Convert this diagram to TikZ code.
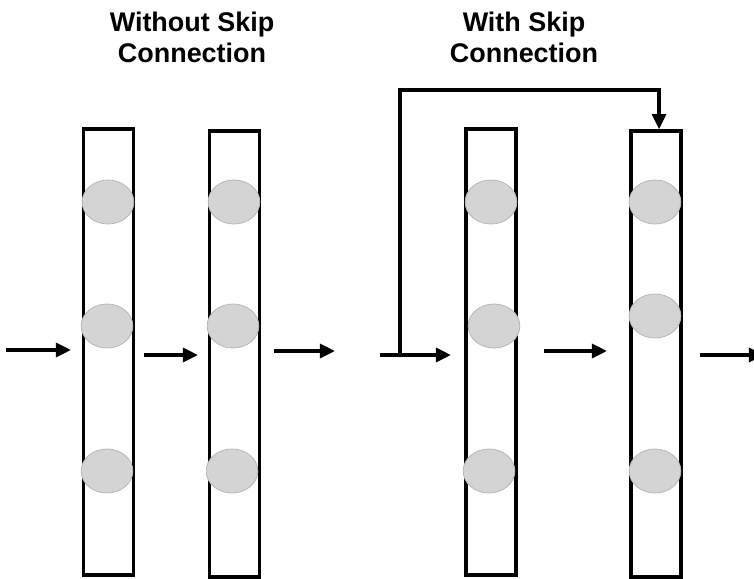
\documentclass[tikz,border=0pt]{standalone}
\usepackage{fontspec}
\setmainfont{Liberation Sans}
\usepackage{xcolor}
\definecolor{unitFill}{HTML}{D4D4D4}
\definecolor{unitEdge}{HTML}{B8B8B8}
\usetikzlibrary{shapes.geometric,arrows.meta}

\tikzset{
  layer/.style={draw, line width=3pt, inner sep=0pt, minimum width=1.5cm, minimum height=13.38cm},
  unit/.style={ellipse, fill=unitFill, draw=unitEdge, line width=0.7pt, inner sep=0pt, minimum width=1.55cm, minimum height=1.32cm},
  flow/.style={line width=3pt, -{Triangle[length=13pt,width=12pt]}},
  heading/.style={align=center, font=\bfseries\fontsize{23}{26.5}\selectfont}
}

\begin{document}
\begin{tikzpicture}[x=0.03cm, y=-0.03cm]
  \useasboundingbox (0,0) rectangle (754,578);
  \node[heading] (headPlain) at (192,37) {Without Skip\\Connection};
  \node[heading] (headSkip) at (524,37) {With Skip\\Connection};

  \node[layer] (layerA) at (108.5,352) {};
  \node[layer] (layerB) at (234.5,354) {};
  \node[layer] (layerC) at (491,352) {};
  \node[layer] (layerD) at (656,354) {};

  \node[unit] (unitA1) at (108,202) {};
  \node[unit] (unitA2) at (107,326) {};
  \node[unit] (unitA3) at (107,471) {};
  \node[unit] (unitB1) at (234,202) {};
  \node[unit] (unitB2) at (233,326) {};
  \node[unit] (unitB3) at (232,471) {};
  \node[unit] (unitC1) at (491,202) {};
  \node[unit] (unitC2) at (494,326) {};
  \node[unit] (unitC3) at (489,471) {};
  \node[unit] (unitD1) at (655,202) {};
  \node[unit] (unitD2) at (655,316) {};
  \node[unit] (unitD3) at (655,471) {};

  \coordinate (inA) at (6,350);
  \coordinate (toA) at (71,350);
  \coordinate (outA) at (144,355);
  \coordinate (toB) at (198,355);
  \coordinate (outB) at (274,351);
  \coordinate (endB) at (335,351);
  \coordinate (inC) at (380,355);
  \coordinate (toC) at (451,355);
  \coordinate (fork) at (400,355);
  \coordinate (outC) at (544,351);
  \coordinate (toD) at (607,351);
  \coordinate (outD) at (700,355);
  \coordinate (endD) at (764,355);

  \draw[flow] (inA) -- (toA);
  \draw[flow] (outA) -- (toB);
  \draw[flow] (outB) -- (endB);
  \draw[flow] (inC) -- (toC);
  \draw[flow] (outC) -- (toD);
  \draw[flow] (outD) -- (endD);
  \draw[flow, line width=2.6pt] (fork) -- (400,90) -| ([xshift=0.09cm]layerD.north);
\end{tikzpicture}
\end{document}
